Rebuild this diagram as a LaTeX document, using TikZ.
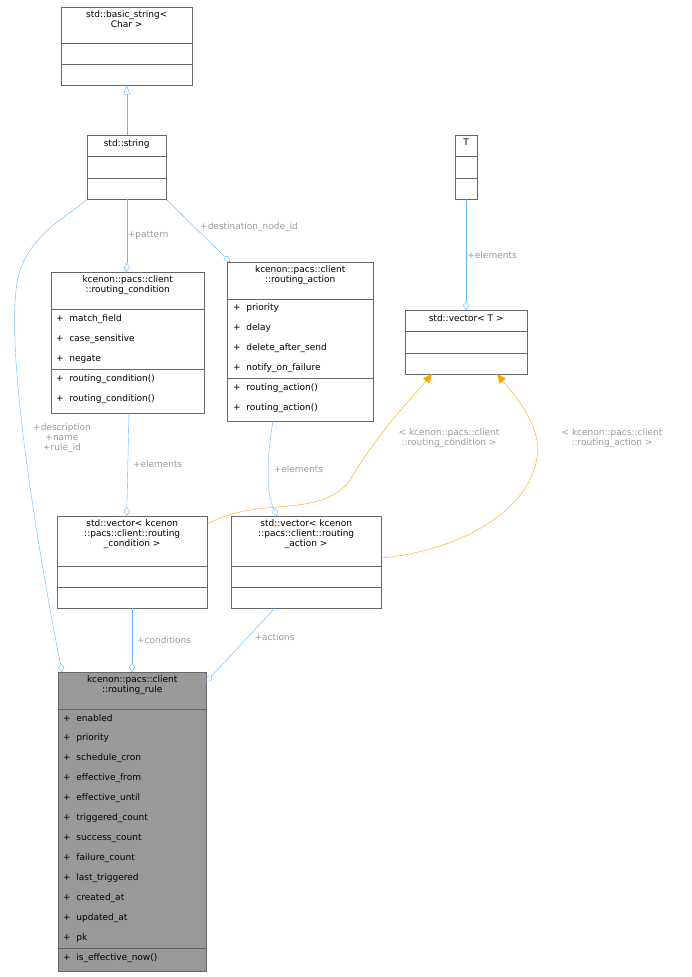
\documentclass[tikz,border=0pt]{standalone}
\usepackage{fontspec}
\setmainfont{DejaVu Sans}
\usetikzlibrary{positioning,arrows.meta}
\definecolor{edgeblue}{HTML}{63B8FF}
\definecolor{edgeorange}{HTML}{FFA500}
\definecolor{lblgray}{HTML}{9A9A9A}
\definecolor{rulegray}{HTML}{999999}
\tikzset{
	cls/.style={draw=black!60, fill=white, inner sep=0pt, anchor=north west},
	title/.style={inner sep=0pt, align=center, font=\fontsize{9}{10}\selectfont, anchor=north},
	member/.style={inner sep=0pt, anchor=west, font=\fontsize{9}{10}\selectfont},
	sep/.style={draw=black!60},
	assoc/.style={draw=edgeblue, {Diamond[open,length=9pt,width=6pt]}-},
	inherit/.style={draw=edgeblue, -{Triangle[open,length=9pt,width=7pt]}},
	tmpl/.style={draw=edgeorange, -{Triangle[length=9pt,width=8pt,fill=edgeorange]}},
	elbl/.style={text=lblgray, inner sep=1pt, align=center, font=\fontsize{9}{10}\selectfont}
}
\begin{document}
\begin{tikzpicture}[x=1pt,y=-1pt]
	\useasboundingbox (0,0) rectangle (692,977);

	% classes
	\node[cls, minimum width=131, minimum height=78] (bstr) at (61,7) {};
	\node[title] at ([yshift=-3]bstr.north) {std::basic\_string<\\Char >};
	\draw[sep] (61,43) -- (192,43); \draw[sep] (61,64) -- (192,64);

	\node[cls, minimum width=79, minimum height=64] (str) at (87,135) {};
	\node[title] at ([yshift=-4]str.north) {std::string};
	\draw[sep] (87,156) -- (166,156); \draw[sep] (87,178) -- (166,178);

	\node[cls, minimum width=22, minimum height=64] (tt) at (455,135) {};
	\node[title] at ([yshift=-4]tt.north) {T};
	\draw[sep] (455,156) -- (477,156); \draw[sep] (455,178) -- (477,178);

	\node[cls, minimum width=153, minimum height=141] (cond) at (51,272) {};
	\node[title] at ([yshift=-3]cond.north) {kcenon::pacs::client\\::routing\_condition};
	\draw[sep] (51,309) -- (204,309); \draw[sep] (51,369) -- (204,369);
	\foreach \t [count=\i] in {match\_field,case\_sensitive,negate,routing\_condition(),routing\_condition()}
		\node[member] at (56,{299+20*\i}) {+\ \ \t};

	\node[cls, minimum width=146, minimum height=159] (act) at (227,262) {};
	\node[title] at ([yshift=-3]act.north) {kcenon::pacs::client\\::routing\_action};
	\draw[sep] (227,299) -- (373,299); \draw[sep] (227,378) -- (373,378);
	\foreach \t [count=\i] in {priority,delay,delete\_after\_send,notify\_on\_failure,routing\_action(),routing\_action()}
		\node[member] at (233,{288+20*\i}) {+\ \ \t};

	\node[cls, minimum width=122, minimum height=64] (vect) at (405,310) {};
	\node[title] at ([yshift=-4]vect.north) {std::vector< T >};
	\draw[sep] (405,331) -- (527,331); \draw[sep] (405,353) -- (527,353);

	\node[cls, minimum width=150, minimum height=92] (vcond) at (57,516) {};
	\node[title] at ([yshift=-3]vcond.north) {std::vector< kcenon\\::pacs::client::routing\\\_condition >};
	\draw[sep] (57,566) -- (207,566); \draw[sep] (57,587) -- (207,587);

	\node[cls, minimum width=150, minimum height=92] (vact) at (231,516) {};
	\node[title] at ([yshift=-3]vact.north) {std::vector< kcenon\\::pacs::client::routing\\\_action >};
	\draw[sep] (231,566) -- (381,566); \draw[sep] (231,587) -- (381,587);

	\node[cls, fill=rulegray, minimum width=148, minimum height=299] (rule) at (58,672) {};
	\node[title] at ([yshift=-3]rule.north) {kcenon::pacs::client\\::routing\_rule};
	\draw[sep] (58,709) -- (206,709); \draw[sep] (58,948) -- (206,948);
	\foreach \t [count=\i] in {enabled,priority,schedule\_cron,effective\_from,effective\_until,triggered\_count,success\_count,failure\_count,last\_triggered,created\_at,updated\_at,pk,is\_effective\_now()}
		\node[member] at (63,{698+20*\i}) {+\ \ \t};

	% edges
	\draw[inherit] (str.north) -- (bstr.south);
	\draw[assoc] (cond.north -| str.south) -- node[elbl, right] {+pattern} (str.south);
	\draw[assoc] (act.north west) ++(3,0) -- node[elbl, pos=0.55, right=4pt] {+destination\_node\_id} (str.south east);
	\draw[assoc] ([xshift=4]rule.north west) .. controls (40,560) and (0,330) .. (20,270) .. controls (35,230) and (70,215) .. (str.south west);
	\node[elbl] at (62,438) {+description\\+name\\+rule\_id};
	\draw[assoc] (vect.north -| tt.south) -- node[elbl, right] {+elements} (tt.south);
	\draw[assoc] ([xshift=-1]vcond.north -| cond.south) -- node[elbl, right=4pt] {+elements} (129,413);
	\draw[assoc] (277,516) .. controls (265,490) and (268,450) .. node[elbl, right=4pt] {+elements} (273,421);
	\draw[tmpl] (207,524) .. controls (260,495) and (320,520) .. (350,480) .. controls (380,430) and (410,400) .. (432,374);
	\node[elbl] at (449,438) {< kcenon::pacs::client\\::routing\_condition >};
	\draw[tmpl] (381,558) .. controls (470,550) and (545,500) .. (537,440) .. controls (530,410) and (510,390) .. (497,374);
	\node[elbl, fill=white] at (612,438) {< kcenon::pacs::client\\::routing\_action >};
	\draw[assoc] (rule.north -| 132,0) -- node[elbl, right=4pt] {+conditions} (132,608);
	\draw[assoc] (206,682) -- node[elbl, pos=0.6, right=6pt] {+actions} (275,608);
\end{tikzpicture}
\end{document}
